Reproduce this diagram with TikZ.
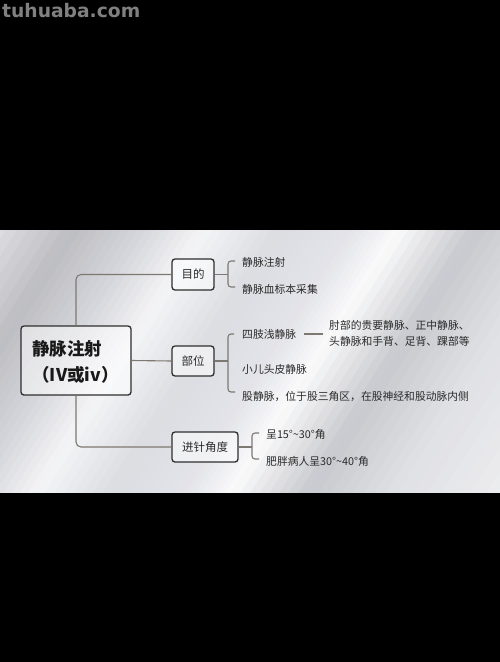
\documentclass[tikz,border=0pt]{standalone}
\usepackage{fontspec}
\setmainfont{Noto Sans CJK SC}
\newfontfamily\wmfont{DejaVu Sans}
\usetikzlibrary{calc}
\definecolor{c0}{HTML}{E4E4E8}
\definecolor{c1}{HTML}{BDBDC2}
\definecolor{c2}{HTML}{D3D4D9}
\definecolor{c3}{HTML}{F4F4F6}
\definecolor{c4}{HTML}{DCDDE2}
\definecolor{c5}{HTML}{E3E4E9}
\definecolor{c6}{HTML}{FAFAFB}
\definecolor{c7}{HTML}{C8C9CE}
\definecolor{c8}{HTML}{E0E1E5}
\definecolor{c9}{HTML}{EEEEF0}
\definecolor{linec}{HTML}{7E7872}
\definecolor{boxc}{HTML}{2E2E2E}
\definecolor{txtc}{HTML}{2A2A2A}
\definecolor{wmc}{HTML}{808080}
\tikzset{
  conn/.style={draw=linec, line width=1.1pt},
  catbox/.style={draw=boxc, line width=1.3pt, rounded corners=3pt, fill=white, fill opacity=0.5, text opacity=1, text=txtc, font=\fontsize{11.5pt}{13pt}\selectfont, minimum height=30pt, inner sep=0pt},
  item/.style={anchor=west, inner sep=0pt, text=txtc, font=\fontsize{10.8pt}{13pt}\selectfont},
  titletext/.style={inner sep=0pt, text=black!90, font=\fontsize{17.5pt}{20pt}\selectfont\bfseries},
}
\begin{document}
\begin{tikzpicture}[x=1pt,y=-1pt]
\useasboundingbox (0,0) rectangle (500,662);
\fill[black] (0,0) rectangle (500,662);
% background photo area
\begin{scope}
\clip (0,230) rectangle (500,492);
\fill[c5] (0,230) rectangle (500,492);
\foreach \sa/\sb/\ca/\cb in {110/185/c0/c1,185/240/c1/c2,240/295/c2/c3,295/360/c3/c4,360/420/c4/c5,420/460/c5/c6,460/525/c6/c7,525/600/c7/c8,600/700/c8/c9}{
  \foreach \i in {0,...,7}{
    \pgfmathsetmacro\lo{\sa+(\sb-\sa)*\i/8}
    \pgfmathsetmacro\hi{\sa+(\sb-\sa)*(\i+1)/8+0.8}
    \pgfmathtruncatemacro\mix{100-(\i+0.5)*12.5}
    \fill[\ca!\mix!\cb] ($\lo*(0.843,0.537)+700*(-0.537,0.843)$) -- ($\lo*(0.843,0.537)+700*(0.537,-0.843)$) -- ($\hi*(0.843,0.537)+700*(0.537,-0.843)$) -- ($\hi*(0.843,0.537)+700*(-0.537,0.843)$) -- cycle;
  }
}
\end{scope}
% watermark
\node[anchor=base west, inner sep=0pt, text=wmc, font=\wmfont\bfseries\fontsize{18.7pt}{20pt}\selectfont] (wm) at (2,17) {tuhuaba.com};
% boxes
\node[catbox, minimum width=110pt, minimum height=69pt] (main) at (76,360.5) {};
\node[titletext, anchor=west] (t1) at (32,349) {静脉注射};
\node[titletext] (t2) at (75.5,375) {（IV或iv）};
\node[catbox, minimum width=42pt, minimum height=31pt] (mud) at (193,274.5) {目的};
\node[catbox, minimum width=42pt] (bw) at (193,361) {部位};
\node[catbox, minimum width=66pt] (jz) at (205,447) {进针角度};
% main connectors
\draw[conn, rounded corners=5pt] (main.north) |- (mud.west);
\draw[conn, rounded corners=5pt] (main.south) |- (jz.west);
\draw[conn] (main.east) -- (bw.west);
% items
\node[item] (a1) at (242,262) {静脉注射};
\node[item] (a2) at (242,289.5) {静脉血标本采集};
\node[item] (p1) at (242,334) {四肢浅静脉};
\node[item, align=left, font=\fontsize{10.8pt}{16pt}\selectfont] (p1d) at (329,333) {肘部的贵要静脉、正中静脉、\\头静脉和手背、足背、踝部等};
\node[item] (p2) at (242,369) {小儿头皮静脉};
\node[item] (p3) at (242,396) {股静脉，位于股三角区，在股神经和股动脉内侧};
\node[item] (j1) at (266,434) {呈15°\textasciitilde 30°角};
\node[item] (j2) at (266,461) {肥胖病人呈30°\textasciitilde 40°角};
% brackets
\coordinate (b1) at (228,274.5);
\coordinate (b1t) at (235,261);
\coordinate (b1b) at (235,287);
\draw[conn] (mud.east) -- (b1);
\draw[conn, rounded corners=3pt] (b1t) -| (b1) |- (b1b);
\coordinate (b2) at (228,361);
\coordinate (b2t) at (234,334);
\coordinate (b2b) at (235,392);
\draw[conn] (bw.east) -- (b2);
\draw[conn, rounded corners=3pt] (b2t) -| (b2) |- (b2b);
\coordinate (b3) at (252,447);
\coordinate (b3t) at (259,433);
\coordinate (b3b) at (259,459);
\draw[conn] (jz.east) -- (b3);
\draw[conn, rounded corners=3pt] (b3t) -| (b3) |- (b3b);
% detail dash
\draw[conn, shorten <=8pt, shorten >=6pt] (p1.east) -- (p1.east -| p1d.west);
\end{tikzpicture}
\end{document}
